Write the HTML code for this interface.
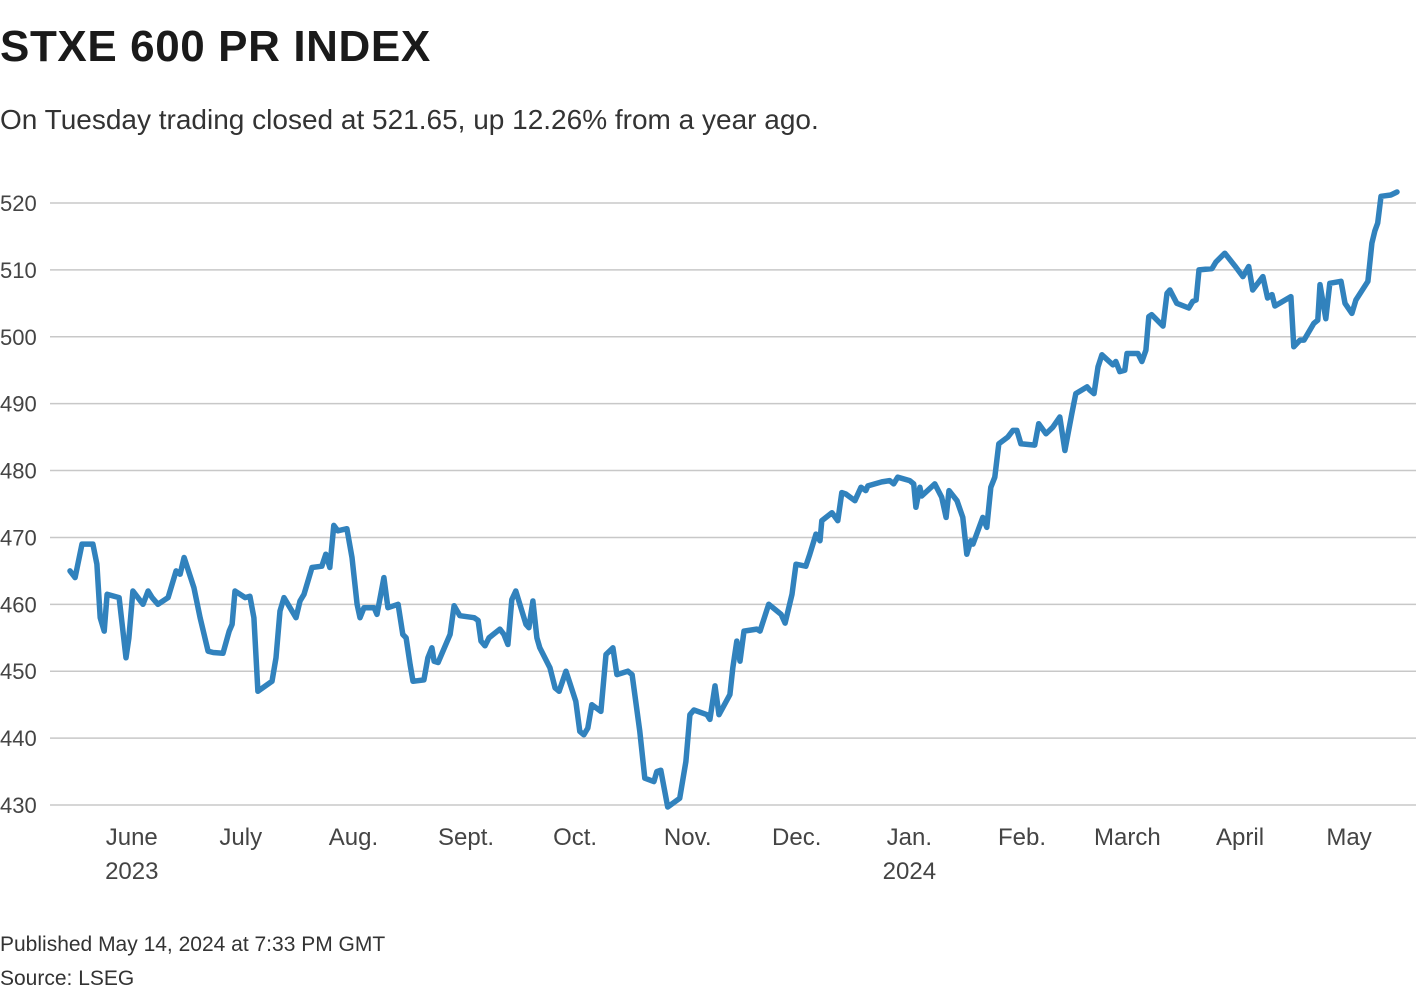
<!DOCTYPE html>
<html><head><meta charset="utf-8"><style>
body{margin:0;width:1420px;height:1000px;background:#fff;font-family:"Liberation Sans",sans-serif;color:#222;overflow:hidden;position:relative}
.t{position:absolute;left:0;white-space:nowrap}
</style></head><body>
<div class="t" style="top:22px;font-size:44px;font-weight:bold;letter-spacing:0.6px;color:#1a1a1a">STXE 600 PR INDEX</div>
<div class="t" style="top:104px;font-size:28px;color:#333">On Tuesday trading closed at 521.65, up 12.26% from a year ago.</div>
<svg id="chart" width="1420" height="900" style="position:absolute;left:0;top:0"></svg>
<div class="t" style="top:933px;font-size:21px;color:#333">Published May 14, 2024 at 7:33 PM GMT</div>
<div class="t" style="top:967px;font-size:21px;color:#333">Source: LSEG</div>
<script>
const yTicks=[430,440,450,460,470,480,490,500,510,520];
const monthLabels=["June","July","Aug.","Sept.","Oct.","Nov.","Dec.","Jan.","Feb.","March","April","May"];
const monthDays=[17,47,78,109,139,170,200,231,262,291,322,352];
const yearLabels=["2023","","","","","","","2024","","","",""];
const days=[0,1.4,3.3,6.3,7.4,8.3,9.4,10.2,13.5,15.4,16.2,17.3,20.1,21.5,22.6,24.2,27.0,29.2,30.3,31.4,34.1,35.8,38.0,39.4,42.1,43.8,44.6,45.4,48.2,49.5,50.6,51.7,55.6,56.7,57.8,58.9,62.2,63.3,64.4,66.6,69.3,70.4,71.5,72.6,73.7,76.2,77.6,79.0,79.8,80.9,83.7,84.5,86.4,87.5,90.3,91.6,92.5,93.6,94.4,97.4,98.5,99.6,100.2,101.3,104.6,105.7,107.3,111.2,112.3,113.1,114.2,115.3,118.3,119.4,120.5,121.6,122.7,125.5,126.3,127.4,128.5,129.3,132.1,133.5,134.6,136.5,139.2,140.3,141.4,142.5,143.6,146.1,147.5,149.4,150.5,153.5,154.7,156.8,158.2,160.7,161.5,162.6,164.5,167.8,169.5,170.6,171.7,175.3,176.1,177.5,178.6,181.6,182.4,183.5,184.4,185.5,189.0,189.9,192.3,195.7,196.8,198.7,199.8,202.5,203.6,205.3,206.4,206.9,209.7,211.3,212.4,213.5,216.0,217.7,219.0,219.6,221.5,223.4,225.6,226.7,227.8,231.1,232.2,232.8,233.9,234.4,238.0,239.9,241.1,241.9,244.1,245.7,246.8,247.9,248.5,251.2,252.3,253.4,254.5,255.6,258.1,259.5,260.6,261.7,265.5,266.6,268.6,270.5,272.4,273.8,275.7,276.8,279.9,280.7,281.8,282.9,284.0,287.0,287.8,288.9,290.3,290.9,293.9,295.0,296.1,296.9,297.7,300.8,301.9,302.7,304.6,307.9,309.0,309.9,310.7,314.3,315.4,317.8,320.6,322.8,324.4,325.5,328.3,329.6,330.8,331.6,336.0,336.8,338.5,339.6,342.3,343.4,344.0,345.6,346.7,349.8,350.9,352.8,353.9,357.2,358.3,359.1,359.9,360.8,363.5,365.2];
const values=[465,464,469,469,466,458,456,461.5,461,452,455,462,460,462,461,460,461,465,464.5,467,462.5,458,453,452.8,452.7,456,457,462,461,461.2,458,447,448.5,452,459,461,458,460.5,461.5,465.5,465.7,467.5,465.5,471.8,471,471.3,467,460,458,459.5,459.5,458.5,464,459.5,460,455.5,455,451,448.5,448.7,452,453.5,451.5,451.3,455.5,459.8,458.3,458,457.6,454.5,453.8,455,456.3,455.5,454,460.7,462,457,456.5,460.5,455,453.5,450.5,447.5,447,450,445.5,441,440.5,441.5,445,444,452.5,453.5,449.5,450,449.5,441,434,433.5,435,435.2,429.7,431,436.5,443.5,444.2,443.5,442.8,447.8,443.5,446.5,450.5,454.5,451.5,456,456.3,456,460,458.5,457.2,461.5,466,465.7,467.5,470.5,469.5,472.5,473.7,472.5,476.7,476.5,475.5,477.5,477,477.7,478,478.3,478.5,478,479,478.5,478,474.5,477.5,476.2,478,476,473,477,475.5,473,467.5,469.5,469,473,471.5,477.5,479,484,485,486,486,484,483.8,487,485.5,486.5,488,483,488.5,491.5,492.5,492,491.5,495.5,497.3,495.8,496.3,494.8,495,497.5,497.5,496.3,498,503,503.3,501.6,506.5,507,505,504.3,505.3,505.5,510,510.2,511.2,512.5,510.6,509,510.5,507,509,505.8,506.3,504.6,506,498.5,499.5,499.5,502,502.5,507.8,502.7,508,508.3,505,503.5,505.5,508.3,514,515.8,517,521,521.2,521.65];
const NS="http://www.w3.org/2000/svg";
const svg=document.getElementById('chart');
const x=d=>70+d*(1327/365.2);
const y=v=>805-(v-430)*(602/90);
function mk(tag,attrs,parent){const e=document.createElementNS(NS,tag);for(const k in attrs)e.setAttribute(k,attrs[k]);(parent||svg).appendChild(e);return e;}
yTicks.forEach(v=>{
  const l=mk('line',{x1:50,x2:1416,y1:y(v),y2:y(v),stroke:'#c8c8c8','stroke-width':1.5});
  
  
  const t=mk('text',{x:0,y:y(v)+8,'font-size':22,fill:'#444','font-family':'Liberation Sans, sans-serif'});
  t.textContent=v;
  
  
});
monthLabels.forEach((m,i)=>{
  const t=mk('text',{x:x(monthDays[i]),y:845,'font-size':24,fill:'#444','text-anchor':'middle','font-family':'Liberation Sans, sans-serif'});
  t.textContent=m;
  
  
  if(yearLabels[i]){
    const yt=mk('text',{x:x(monthDays[i]),y:879,'font-size':24,fill:'#444','text-anchor':'middle','font-family':'Liberation Sans, sans-serif'});
    yt.textContent=yearLabels[i];
    
    
  }
});
const p=mk('path',{d:days.map((d,i)=>(i?'L':'M')+x(d).toFixed(1)+','+y(values[i]).toFixed(1)).join(''),fill:'none',stroke:'#3182bd','stroke-width':5.5,'stroke-linejoin':'round','stroke-linecap':'round'});


</script>
</body></html>
